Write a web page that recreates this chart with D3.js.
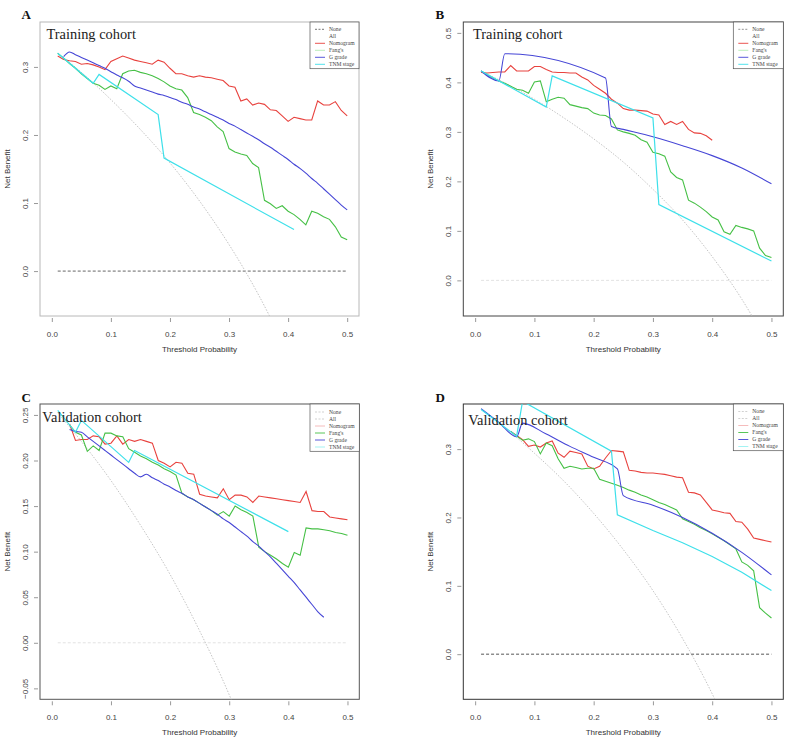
<!DOCTYPE html>
<html><head><meta charset="utf-8">
<script src="https://cdn.jsdelivr.net/npm/d3@7/dist/d3.min.js"></script>
<style>body{margin:0;background:#fff}svg{display:block}</style>
</head><body>
<svg id="chart" width="789" height="741"></svg>
<script>
// ---------- DATA ----------
const thresholds = [0.01,0.02,0.03,0.04,0.05,0.06,0.07,0.08,0.09,0.10,
  0.11,0.12,0.13,0.14,0.15,0.16,0.17,0.18,0.19,0.20,
  0.21,0.22,0.23,0.24,0.25,0.26,0.27,0.28,0.29,0.30,
  0.31,0.32,0.33,0.34,0.35,0.36,0.37,0.38,0.39,0.40,
  0.41,0.42,0.43,0.44,0.45,0.46,0.47,0.48,0.49,0.50];
const xTicks = [0,0.1,0.2,0.3,0.4,0.5];
const seriesNames = ["None","All","Nomogram","Fang's","G grade","TNM stage"];

// Panel A (Training cohort)
const A_none_x = [0.01,0.50], A_none_y = [0,0];
const A_all_x = [0.01,0.05,0.10,0.15,0.20,0.25,0.30,0.35,0.40];
const A_all_y = [0.320,0.292,0.252,0.208,0.159,0.103,0.039,-0.035,-0.122];
const A_nomogram = [0.316,0.311,0.309,0.308,0.304,0.305,0.303,0.300,0.296,0.308,
  0.312,0.316,0.313,0.310,0.308,0.306,0.304,0.310,0.307,0.298,
  0.290,0.290,0.287,0.285,0.287,0.285,0.284,0.282,0.280,0.272,
  0.270,0.250,0.253,0.244,0.247,0.245,0.237,0.236,0.228,0.220,
  0.226,0.224,0.222,0.222,0.250,0.244,0.244,0.249,0.236,0.228];
const A_fang = [0.320,0.313,0.305,0.298,0.290,0.283,0.276,0.273,0.267,0.272,
  0.268,0.290,0.294,0.295,0.292,0.290,0.287,0.283,0.278,0.272,
  0.268,0.266,0.255,0.233,0.230,0.226,0.221,0.212,0.205,0.180,
  0.175,0.172,0.170,0.158,0.152,0.104,0.099,0.092,0.096,0.088,
  0.083,0.076,0.068,0.088,0.085,0.080,0.076,0.065,0.050,0.046];
const A_ggrade = [null,0.315,0.322,0.318,0.314,0.310,0.306,0.302,0.298,0.293,
  0.288,0.284,0.279,0.272,0.269,0.266,0.263,0.260,0.258,0.255,
  0.252,0.248,0.245,0.241,0.238,0.234,0.230,0.226,0.222,0.217,
  0.213,0.208,0.203,0.198,0.193,0.187,0.182,0.176,0.170,0.164,
  0.157,0.151,0.144,0.136,0.129,0.121,0.113,0.105,0.097,0.090];
const A_tnm_x = [0.01,0.07,0.08,0.18,0.19,0.41];
const A_tnm_y = [0.320,0.276,0.289,0.230,0.166,0.061];

// Panel B (Training cohort)
const B_none_x = [0.01,0.50], B_none_y = [0,0];
const B_all_x = [0.01,0.05,0.10,0.15,0.20,0.25,0.30,0.35,0.40,0.45,0.50];
const B_all_y = [0.423,0.399,0.366,0.328,0.286,0.239,0.184,0.122,0.048,-0.038,-0.142];
const B_nomogram = [0.420,0.419,0.420,0.421,0.421,0.434,0.423,0.423,0.423,0.432,
  0.432,0.426,0.421,0.420,0.420,0.419,0.419,0.411,0.405,0.394,
  0.386,0.378,0.366,0.358,0.347,0.344,0.344,0.343,0.342,0.336,
  0.334,0.315,0.321,0.315,0.321,0.305,0.298,0.297,0.292,0.283,
  null,null,null,null,null,null,null,null,null,null];
const B_fang = [0.423,0.416,0.409,0.403,0.398,0.392,0.386,0.384,0.378,0.401,
  0.403,0.361,0.366,0.370,0.368,0.355,0.352,0.349,0.347,0.338,
  0.334,0.333,0.326,0.304,0.300,0.297,0.293,0.284,0.279,0.259,
  0.256,0.251,0.219,0.208,0.203,0.162,0.156,0.148,0.139,0.128,
  0.122,0.098,0.093,0.111,0.107,0.104,0.100,0.065,0.050,0.046];
const B_ggrade_x = [0.01,0.04,0.05,0.22,0.23,0.25,0.30,0.35,0.40,0.45,0.50];
const B_ggrade_y = [0.423,0.403,0.458,0.409,0.311,0.305,0.290,0.272,0.252,0.227,0.195];
const B_tnm_x = [0.01,0.12,0.13,0.30,0.31,0.50];
const B_tnm_y = [0.423,0.350,0.413,0.328,0.153,0.039];

// Panel C (Validation cohort)
const C_none_x = [0.01,0.50], C_none_y = [0,0];
const C_all_x = [0.01,0.05,0.10,0.15,0.20,0.25,0.30,0.35];
const C_all_y = [0.2525,0.221,0.178,0.129,0.075,0.013,-0.057,-0.140];
const C_nomogram = [null,null,0.240,0.222,0.223,0.223,0.227,0.226,0.218,0.219,
  0.227,0.218,0.223,0.221,0.223,0.221,0.219,0.200,0.197,0.193,
  0.198,0.197,0.186,0.185,0.163,0.161,0.160,0.159,0.169,0.157,
  0.162,0.162,0.160,0.154,0.161,0.160,0.159,0.158,0.157,0.156,
  0.155,0.154,0.166,0.145,0.144,0.144,0.138,0.137,0.136,0.135];
const C_fang = [null,null,0.239,0.231,0.228,0.210,0.216,0.211,0.230,0.230,
  0.227,0.226,0.213,0.209,0.205,0.202,0.198,0.195,0.191,0.188,
  0.184,0.164,0.160,0.157,0.153,0.149,0.145,0.140,0.144,0.139,
  0.150,0.146,0.143,0.139,0.105,0.100,0.096,0.092,0.087,0.083,
  0.099,0.096,0.126,0.125,0.125,0.124,0.123,0.121,0.120,0.118];
const C_ggrade = [null,null,0.234,0.232,0.231,0.226,0.221,0.216,0.211,0.206,
  0.201,0.196,0.191,0.186,0.182,0.185,0.181,0.178,0.174,0.171,
  0.167,0.164,0.160,0.157,0.153,0.149,0.145,0.141,0.136,0.132,
  0.127,0.122,0.117,0.111,0.106,0.100,0.094,0.087,0.080,0.073,
  0.066,0.058,0.050,0.042,0.034,0.028,null,null,null,null];
const C_tnm_x = [0.01,0.04,0.05,0.13,0.14,0.40];
const C_tnm_y = [0.255,0.231,0.244,0.198,0.211,0.122];

// Panel D (Validation cohort)
const D_none_x = [0.01,0.50], D_none_y = [0,0];
const D_all_x = [0.01,0.05,0.10,0.15,0.20,0.25,0.30,0.35,0.40,0.45];
const D_all_y = [0.359,0.332,0.294,0.253,0.206,0.153,0.093,0.023,-0.058,-0.155];
const D_nomogram = [null,null,null,null,null,0.326,0.320,0.314,0.304,0.306,
  0.303,0.309,0.312,0.294,0.288,0.297,0.295,0.293,0.275,0.271,
  0.275,0.287,0.298,0.297,0.296,0.269,0.268,0.266,0.265,0.265,
  0.264,0.263,0.261,0.259,0.258,0.237,0.236,0.233,0.222,0.211,
  0.209,0.207,0.206,0.194,0.193,0.183,0.170,0.168,0.166,0.164];
const D_fang = [null,null,null,null,null,0.326,0.319,0.313,0.315,0.311,
  0.293,0.309,0.305,0.286,0.272,0.275,0.273,0.271,0.272,0.272,
  0.256,0.253,0.250,0.247,0.244,0.240,0.237,0.233,0.230,0.226,
  0.222,0.219,0.215,0.211,0.198,0.194,0.190,0.185,0.181,0.176,
  0.171,0.166,0.160,0.154,0.135,0.130,0.122,0.068,0.060,0.053];
const D_ggrade_x = [0.01,0.04,0.07,0.08,0.12,0.16,0.20,0.24,0.25,0.30,0.35,0.40,0.45,0.50];
const D_ggrade_y = [0.359,0.339,0.318,0.338,0.322,0.304,0.288,0.271,0.232,0.218,0.200,0.177,0.149,0.116];
const D_tnm_x = [0.01,0.07,0.08,0.23,0.24,0.30,0.35,0.40,0.45,0.50];
const D_tnm_y = [0.358,0.319,0.370,0.297,0.204,0.181,0.163,0.143,0.120,0.093];

// ---------- BUILD ----------
const zip = (xs, ys) => xs.map((x, i) => [x, ys[i]]);
const onGrid = ys => zip(thresholds, ys);

const COL = {red:"#e8423e", green:"#46c046", blue:"#4646d6", cyan:"#3ee0ea"};

const panels = [
  {label:"A", title:"Training cohort", l:40, r:359, t:22, b:316, labelX:21.5, labelY:19, titleX:46.5, titleY:39,
   yDomain:[-0.066,0.366], yTicks:[0,0.1,0.2,0.3], yFmt:".1f", frame:"#b8b8b8",
   noneStroke:"#666", allStroke:"#c4c4c4",
   data:[zip(A_none_x,A_none_y), zip(A_all_x,A_all_y), onGrid(A_nomogram), onGrid(A_fang), onGrid(A_ggrade), zip(A_tnm_x,A_tnm_y)],
   leg:{x0:310, y0:22, y1:68.7, row0:29.3, cols:["#666","#ffffff",COL.red,"#b4ecb4",COL.blue,COL.cyan], dash:["2,1.5",null,null,null,null,null]}},
  {label:"B", title:"Training cohort", l:463.3, r:783.3, t:22, b:316, labelX:435.5, labelY:19, titleX:473, titleY:39,
   yDomain:[-0.072,0.522], yTicks:[0,0.1,0.2,0.3,0.4,0.5], yFmt:".1f", frame:"#444",
   noneStroke:"#e2e2e2", allStroke:"#c4c4c4",
   data:[zip(B_none_x,B_none_y), zip(B_all_x,B_all_y), onGrid(B_nomogram), onGrid(B_fang), zip(B_ggrade_x,B_ggrade_y), zip(B_tnm_x,B_tnm_y)],
   leg:{x0:733.3, y0:22, y1:68.7, row0:29.3, cols:["#888","#ffffff",COL.red,"#b4ecb4",COL.blue,COL.cyan], dash:["2,1.5",null,null,null,null,null]}},
  {label:"C", title:"Validation cohort", l:40, r:359.3, t:404, b:699.3, labelX:21.5, labelY:402, titleX:42.3, titleY:421.7,
   yDomain:[-0.062,0.262], yTicks:[-0.05,0,0.05,0.1,0.15,0.2,0.25], yFmt:".2f", frame:"#555",
   noneStroke:"#e2e2e2", allStroke:"#c4c4c4",
   data:[zip(C_none_x,C_none_y), zip(C_all_x,C_all_y), onGrid(C_nomogram), onGrid(C_fang), onGrid(C_ggrade), zip(C_tnm_x,C_tnm_y)],
   leg:{x0:310, y0:404, y1:451.3, row0:412, cols:["#ccc","#ccc","#f4b4b4",COL.green,COL.blue,"#9af2f2"], dash:["2,1.5","2,1.5",null,null,null,null]}},
  {label:"D", title:"Validation cohort", l:463.3, r:783.3, t:404, b:699.3, labelX:435.5, labelY:401.7, titleX:468.3, titleY:425,
   yDomain:[-0.066,0.366], yTicks:[0,0.1,0.2,0.3], yFmt:".1f", frame:"#333",
   noneStroke:"#555", allStroke:"#c4c4c4",
   data:[zip(D_none_x,D_none_y), zip(D_all_x,D_all_y), onGrid(D_nomogram), onGrid(D_fang), zip(D_ggrade_x,D_ggrade_y), zip(D_tnm_x,D_tnm_y)],
   leg:{x0:733.3, y0:404, y1:450.7, row0:411.5, cols:["#ccc","#ccc","#f4b4b4",COL.green,COL.blue,"#9af2f2"], dash:["2,1.5","2,1.5",null,null,null,null]}}
];

const svg = d3.select("#chart");
const sans = "'Liberation Sans', Arial, sans-serif";
const serif = "'Liberation Serif', 'Times New Roman', serif";

panels.forEach((p, pi) => {
  const x = d3.scaleLinear().domain([-0.02, 0.52]).range([p.l, p.r]);
  const y = d3.scaleLinear().domain(p.yDomain).range([p.b, p.t]);
  const g = svg.append("g");

  const clipId = "clip" + pi;
  g.append("clipPath").attr("id", clipId).append("rect")
    .attr("x", p.l).attr("y", p.t).attr("width", p.r - p.l).attr("height", p.b - p.t);

  // Axes
  const xa = g.append("g").attr("transform", `translate(0,${p.b + 2})`)
    .call(d3.axisBottom(x).tickValues(xTicks).tickFormat(d3.format(".1f")).tickSize(4).tickPadding(9));
  xa.select(".domain").remove();
  xa.selectAll("line").attr("stroke", "#999");
  xa.selectAll("text").attr("font-family", sans).attr("font-size", 8).attr("fill", "#444");

  const ya = g.append("g").attr("transform", `translate(${p.l - 2},0)`)
    .call(d3.axisLeft(y).tickValues(p.yTicks).tickFormat(d3.format(p.yFmt)).tickSize(4).tickPadding(3));
  ya.select(".domain").remove();
  ya.selectAll("line").attr("stroke", "#999");
  ya.selectAll("text").attr("font-family", sans).attr("font-size", 8).attr("fill", "#444")
    .attr("text-anchor", "middle").attr("dy", 0).attr("x", 0).attr("y", 0)
    .attr("transform", "translate(-10,0) rotate(-90)");

  // Frame
  g.append("rect").attr("x", p.l).attr("y", p.t).attr("width", p.r - p.l).attr("height", p.b - p.t)
    .attr("fill", "none").attr("stroke", p.frame).attr("stroke-width", 1);

  // Lines
  const plot = g.append("g").attr("clip-path", `url(#${clipId})`);
  const line = d3.line().defined(d => d[1] != null).x(d => x(d[0])).y(d => y(d[1]));
  const smooth = d3.line().curve(d3.curveMonotoneX).defined(d => d[1] != null).x(d => x(d[0])).y(d => y(d[1]));
  const styles = [
    {stroke:p.noneStroke, dash:"3,2", w:1, gen:line},
    {stroke:p.allStroke, dash:"1.5,1.5", w:1, gen:smooth},
    {stroke:COL.red, dash:null, w:1.1, gen:line},
    {stroke:COL.green, dash:null, w:1.1, gen:line},
    {stroke:COL.blue, dash:null, w:1.1, gen:smooth},
    {stroke:COL.cyan, dash:null, w:1.2, gen:line}
  ];
  p.data.forEach((ser, si) => {
    const s = styles[si];
    plot.append("path").attr("d", s.gen(ser)).attr("fill", "none")
      .attr("stroke", s.stroke).attr("stroke-width", s.w)
      .attr("stroke-dasharray", s.dash);
  });

  // Texts
  g.append("text").attr("x", p.labelX).attr("y", p.labelY).text(p.label)
    .attr("font-family", serif).attr("font-weight", "bold").attr("font-size", 13).attr("fill", "#111");
  g.append("text").attr("x", p.titleX).attr("y", p.titleY).text(p.title)
    .attr("font-family", serif).attr("font-size", 14.4).attr("fill", "#222");
  g.append("text").attr("x", (p.l + p.r) / 2).attr("y", p.b + 36).text("Threshold Probability")
    .attr("text-anchor", "middle").attr("font-family", sans).attr("font-size", 8).attr("fill", "#333");
  g.append("text").attr("transform", `translate(${p.l - 30},${(p.t + p.b) / 2}) rotate(-90)`)
    .text("Net Benefit").attr("text-anchor", "middle").attr("font-family", sans).attr("font-size", 8).attr("fill", "#333");

  // Legend
  const L = p.leg;
  const lg = g.append("g");
  lg.append("rect").attr("x", L.x0).attr("y", L.y0).attr("width", p.r - L.x0).attr("height", L.y1 - L.y0)
    .attr("fill", "#fff").attr("stroke", "#555").attr("stroke-width", 0.7);
  seriesNames.forEach((nm, i) => {
    const yy = L.row0 + i * 7;
    lg.append("line").attr("x1", L.x0 + 5).attr("x2", L.x0 + 15).attr("y1", yy).attr("y2", yy)
      .attr("stroke", L.cols[i]).attr("stroke-width", 0.9).attr("stroke-dasharray", L.dash[i]);
    lg.append("text").attr("x", L.x0 + 19).attr("y", yy + 1.8).text(nm)
      .attr("font-family", serif).attr("font-size", 5.6).attr("fill", "#444");
  });
});
</script>
</body></html>
